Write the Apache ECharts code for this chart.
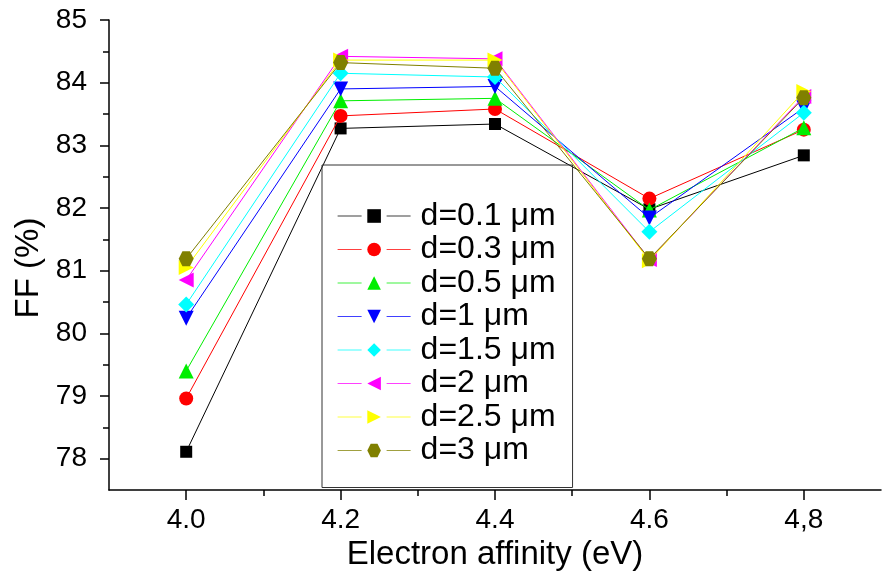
<!DOCTYPE html>
<html>
<head>
<meta charset="utf-8">
<script src="https://cdn.jsdelivr.net/npm/echarts@6/dist/echarts.min.js"></script>
<style>html,body{margin:0;padding:0;background:#fff}#c{width:885px;height:573px}</style>
</head>
<body>
<div id="c"></div>
<script>
// ---- data ----
const xValues = [4.0, 4.2, 4.4, 4.6, 4.8];
const xTickValues = [4.0, 4.2, 4.4, 4.6, 4.8];
const xTickLabels = ['4.0', '4.2', '4.4', '4.6', '4,8'];
const xMinorTicks = [4.1, 4.3, 4.5, 4.7];
const yTickValues = [78, 79, 80, 81, 82, 83, 84, 85];
const yMinorTicks = [78.5, 79.5, 80.5, 81.5, 82.5, 83.5, 84.5];
const seriesNames = ['d=0.1 μm', 'd=0.3 μm', 'd=0.5 μm', 'd=1 μm', 'd=1.5 μm', 'd=2 μm', 'd=2.5 μm', 'd=3 μm'];
const d01 = [78.11, 83.27, 83.34, 81.98, 82.84];
const d03 = [78.96, 83.47, 83.58, 82.15, 83.25];
const d05 = [79.40, 83.71, 83.75, 81.97, 83.28];
const d1 = [80.24, 83.90, 83.94, 81.84, 83.60];
const d15 = [80.46, 84.15, 84.09, 81.62, 83.52];
const d2 = [80.85, 84.42, 84.38, 81.18, 83.78];
const d25 = [81.05, 84.36, 84.36, 81.16, 83.86];
const d3 = [81.19, 84.32, 84.23, 81.19, 83.76];

const allData = [d01, d03, d05, d1, d15, d2, d25, d3];
const colors = ['#000000', '#ff0000', '#00ee00', '#0000ff', '#00ffff', '#ff00ff', '#ffff00', '#808000'];
const hex = 'path://M-1,0 L-0.5,-0.866 L0.5,-0.866 L1,0 L0.5,0.866 L-0.5,0.866 Z';
const symbols = ['rect', 'circle', 'triangle', 'triangle', 'diamond', 'triangle', 'triangle', hex];
const rotates = [0, 0, 0, 180, 0, 90, -90, 0];
const sizes = [12, 14, 15, 15, 16, 15, 15, 15];

const FONT = 'Liberation Sans, Arial, sans-serif';
const chart = echarts.init(document.getElementById('c'), null, {renderer: 'canvas'});

const series = allData.map((vals, i) => ({
  name: seriesNames[i],
  type: 'line',
  data: xValues.map((x, j) => [x, vals[j]]),
  symbol: symbols[i],
  symbolRotate: rotates[i],
  symbolSize: sizes[i],
  showAllSymbol: true,
  lineStyle: {color: colors[i], width: 1},
  itemStyle: {color: colors[i]},
  emphasis: {disabled: true},
  animation: false,
  z: 2 + i
}));

chart.setOption({
  backgroundColor: '#ffffff',
  animation: false,
  grid: {left: 109, right: 4, top: 20, bottom: 83, containLabel: false, outerBoundsMode: 'none'},
  legend: {
    orient: 'vertical',
    left: 322, top: 165,
    padding: [35, 17, 21, 15],
    itemWidth: 73, itemHeight: 17, itemGap: 1.5,
    borderColor: '#333', borderWidth: 1,
    textStyle: {fontFamily: FONT, fontSize: 32, lineHeight: 30, color: '#000', padding: [0, 0, 0, 5]},
    data: seriesNames.map((n, i) => ({
      name: n,
      lineStyle: {color: colors[i], type: [24, 25], width: 1.2, opacity: 0.75}
    }))
  },
  xAxis: [{
    type: 'value', min: 3.9, max: 4.9,
    name: 'Electron affinity (eV)', nameLocation: 'middle', nameGap: 46,
    nameTextStyle: {fontFamily: FONT, fontSize: 33, color: '#000'},
    axisLine: {show: true, lineStyle: {color: '#000', width: 1.5}},
    axisTick: {show: true, customValues: xTickValues, length: 10, lineStyle: {color: '#000', width: 1.5}},
    axisLabel: {customValues: xTickValues, fontFamily: FONT, fontSize: 28, color: '#000', margin: 16,
      formatter: v => { const k = xTickValues.findIndex(t => Math.abs(t - v) < 1e-6); return k >= 0 ? xTickLabels[k] : ''; }},
    splitLine: {show: false}
  }, {
    type: 'value', min: 3.9, max: 4.9, position: 'bottom',
    axisLine: {show: false},
    axisTick: {show: true, customValues: xMinorTicks, length: 6, lineStyle: {color: '#000', width: 1.5}},
    axisLabel: {show: false}, splitLine: {show: false}
  }],
  yAxis: [{
    type: 'value', min: 77.5, max: 85,
    name: 'FF (%)', nameLocation: 'middle', nameGap: 64,
    nameTextStyle: {fontFamily: FONT, fontSize: 33, color: '#000', padding: [0, 26, 0, 0]},
    axisLine: {show: true, lineStyle: {color: '#000', width: 1.5}},
    axisTick: {show: true, customValues: yTickValues, length: 9, lineStyle: {color: '#000', width: 1.5}},
    axisLabel: {customValues: yTickValues, fontFamily: FONT, fontSize: 28, color: '#000', margin: 22},
    splitLine: {show: false}
  }, {
    type: 'value', min: 77.5, max: 85, position: 'left',
    axisLine: {show: false},
    axisTick: {show: true, customValues: yMinorTicks, length: 6, lineStyle: {color: '#000', width: 1.5}},
    axisLabel: {show: false}, splitLine: {show: false}
  }],
  series: series
});
</script>
</body>
</html>
